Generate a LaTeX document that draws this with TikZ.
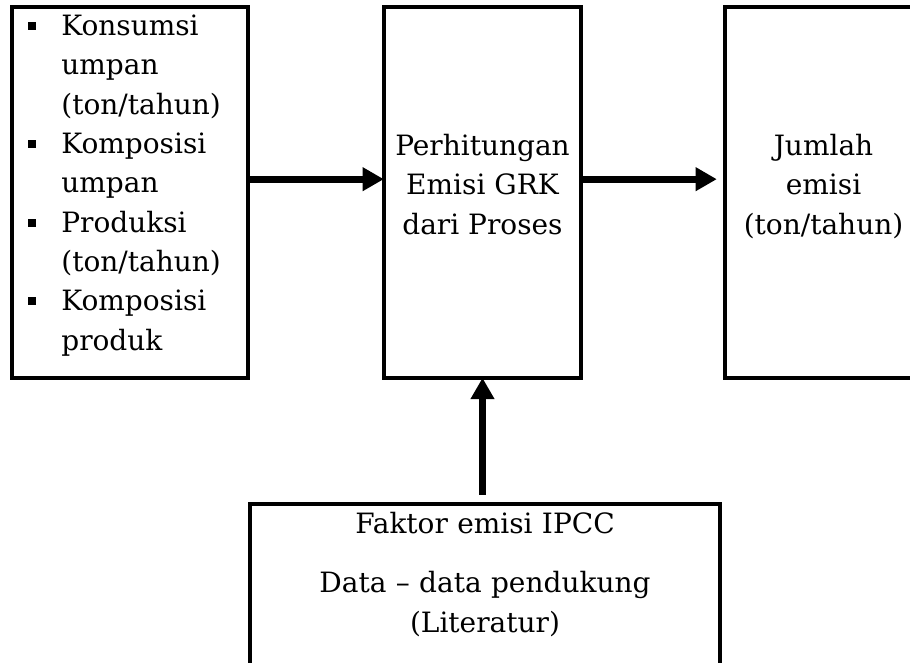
\documentclass[tikz,border=0pt]{standalone}
\usepackage{fontspec}
\setmainfont{DejaVu Serif}
\usetikzlibrary{arrows.meta}
\tikzset{>={Triangle[length=16pt,width=17pt]}}
\tikzset{kotak/.style={draw, line width=3pt, inner sep=0pt, outer sep=0pt, align=center, font=\fontsize{21}{29.5}\selectfont}}
\tikzset{panah/.style={->, line width=5pt}}
\newcommand{\butir}{\makebox[25pt][l]{\rule[0.2em]{6pt}{6pt}}}
\newcommand{\lanjut}{\hspace*{25pt}}

\begin{document}
\begin{tikzpicture}[x=0.75pt,y=-0.75pt]
    \useasboundingbox (0,0) rectangle (910,662);
    \clip (0,0) rectangle (910,662);
    \node[kotak, align=left, inner xsep=12pt, text width=153pt, text depth=251pt, minimum height=278pt] (masukan) at (130,192.5) {\butir Konsumsi\\ \lanjut umpan\\ \lanjut (ton/tahun)\\ \butir Komposisi\\ \lanjut umpan\\ \butir Produksi\\ \lanjut (ton/tahun)\\ \butir Komposisi\\ \lanjut produk};
    \node[kotak, minimum width=148pt, minimum height=278pt, text depth=12.5pt] (proses) at (482.5,192.5) {Perhitungan\\ Emisi GRK\\ dari Proses};
    \node[kotak, minimum width=148pt, minimum height=278pt, text depth=12.5pt] (hasil) at (823.5,192.5) {Jumlah\\ emisi\\ (ton/tahun)};
    \node[kotak, anchor=north, text width=352.5pt, text height=22pt, text depth=150pt] (sumber) at (485,504) {Faktor emisi IPCC\\[15pt] Data -- data pendukung\\ (Literatur)};
    \draw[panah] ([yshift=10pt]masukan.east) -- ([yshift=10pt]proses.west);
    \draw[panah, shorten >=6pt] ([yshift=10pt]proses.east) -- ([yshift=10pt]hasil.west);
    \draw[panah, shorten <=7pt] (sumber.north -| proses.south) -- (proses.south);
\end{tikzpicture}
\end{document}
